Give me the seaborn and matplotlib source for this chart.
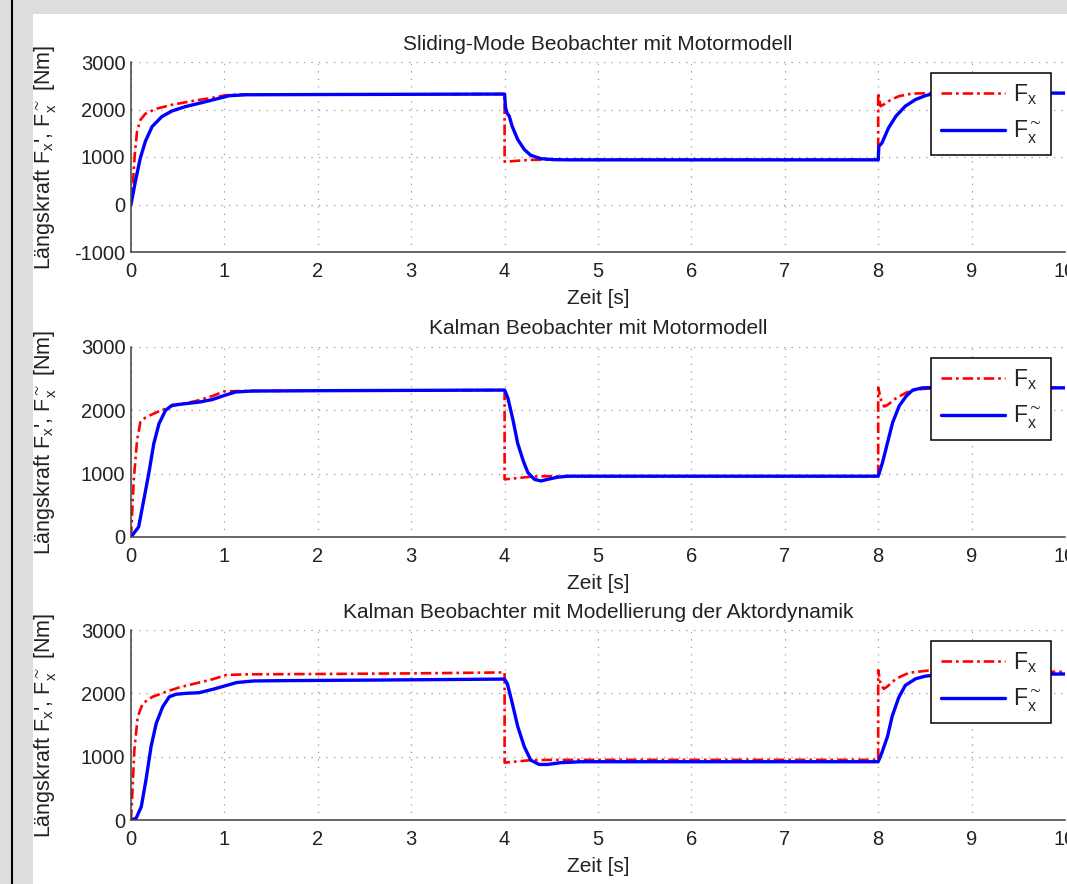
import matplotlib
matplotlib.use("Agg")
import matplotlib.pyplot as plt
from matplotlib.patches import Rectangle
from matplotlib.lines import Line2D
import seaborn as sns

# ---- data (time in s, force in Nm) ----
# Sliding-Mode observer
t_sm_fx = [0, 0.018, 0.04, 0.065, 0.1, 0.154, 0.26, 0.44, 0.69, 0.87, 1.01, 1.16, 2.0, 3.0, 4.0,
           4.0, 4.1, 4.2, 4.3, 4.45, 5.0, 6.0, 7.0, 8.0,
           8.0, 8.025, 8.06, 8.11, 8.22, 8.36, 8.6, 9.0, 10.0]
fx_sm = [0, 350, 1050, 1540, 1780, 1910, 2010, 2100, 2190, 2245, 2300, 2315, 2315, 2320, 2325,
         900, 915, 930, 940, 945, 945, 945, 945, 945,
         2350, 2070, 2105, 2175, 2280, 2335, 2345, 2345, 2345]
t_sm_est = [0, 0.047, 0.1, 0.154, 0.226, 0.33, 0.44, 0.58, 0.76, 0.94, 1.05, 1.23, 2.0, 3.0, 4.0,
            4.01, 4.03, 4.05, 4.08, 4.14, 4.21, 4.28, 4.39, 4.53, 4.7, 5.0, 6.0, 7.0, 8.0,
            8.007, 8.04, 8.11, 8.19, 8.29, 8.4, 8.51, 8.6, 9.0, 10.0]
est_sm = [0, 490, 980, 1330, 1640, 1850, 1970, 2060, 2145, 2235, 2290, 2310, 2315, 2320, 2325,
          2035, 1910, 1860, 1650, 1370, 1160, 1035, 965, 944, 940, 940, 940, 940, 940,
          1225, 1295, 1610, 1860, 2070, 2210, 2295, 2335, 2345, 2345]

# Kalman observer with motor model
t_km_fx = [0, 0.029, 0.065, 0.1, 0.154, 0.26, 0.44, 0.69, 0.87, 1.0, 1.2, 2.0, 3.0, 4.0,
           4.0, 4.1, 4.2, 4.3, 4.45, 5.0, 6.0, 7.0, 8.0,
           8.0, 8.03, 8.064, 8.1, 8.19, 8.3, 8.41, 8.6, 9.0, 10.0]
fx_km = [0, 895, 1525, 1815, 1885, 1960, 2070, 2145, 2225, 2300, 2305, 2310, 2315, 2320,
         910, 925, 940, 955, 960, 960, 960, 960, 960,
         2360, 2165, 2060, 2085, 2190, 2280, 2330, 2350, 2355, 2355]
t_km_est = [0, 0.082, 0.136, 0.19, 0.244, 0.30, 0.37, 0.44, 0.58, 0.73, 0.87, 1.0, 1.12, 1.3, 2.0, 3.0,
            4.0, 4.036, 4.09, 4.14, 4.2, 4.25, 4.32, 4.39, 4.46, 4.57, 4.68, 5.0, 6.0, 7.0, 8.0,
            8.046, 8.1, 8.154, 8.225, 8.3, 8.37, 8.475, 8.6, 9.0, 10.0]
est_km = [0, 160, 580, 1000, 1475, 1790, 2000, 2080, 2105, 2130, 2170, 2235, 2290, 2305, 2310, 2315,
          2320, 2190, 1845, 1480, 1200, 1015, 910, 885, 910, 945, 960, 960, 960, 960, 960,
          1175, 1490, 1805, 2070, 2225, 2320, 2355, 2360, 2358, 2355]

# Kalman observer with actuator dynamics
t_ad_fx = [0, 0.018, 0.036, 0.072, 0.125, 0.23, 0.376, 0.52, 0.7, 0.88, 1.02, 1.24, 2.0, 3.0, 4.0,
           4.0, 4.1, 4.28, 4.5, 5.0, 6.0, 7.0, 8.0,
           8.0, 8.025, 8.06, 8.1, 8.19, 8.33, 8.54, 9.0, 10.0]
fx_ad = [0, 525, 1105, 1630, 1840, 1945, 2025, 2095, 2160, 2225, 2290, 2300, 2305, 2315, 2330,
         905, 920, 945, 950, 950, 950, 950, 950,
         2365, 2150, 2070, 2110, 2230, 2325, 2360, 2345, 2340]
t_ad_est = [0, 0.054, 0.11, 0.16, 0.215, 0.27, 0.34, 0.41, 0.48, 0.59, 0.73, 0.88, 1.0, 1.13, 1.31, 1.6,
            2.67, 4.0, 4.03, 4.08, 4.14, 4.21, 4.28, 4.37, 4.46, 4.6, 4.82, 5.0, 6.0, 7.0, 8.0,
            8.04, 8.1, 8.15, 8.22, 8.29, 8.4, 8.5, 8.58, 9.0, 10.0]
est_ad = [0, 25, 210, 630, 1160, 1525, 1790, 1945, 1985, 2000, 2010, 2065, 2115, 2170, 2195, 2200,
          2210, 2225, 2150, 1855, 1480, 1160, 945, 877, 877, 905, 920, 920, 920, 920, 920,
          1065, 1320, 1640, 1935, 2125, 2230, 2270, 2285, 2300, 2305]

titles = ["Sliding-Mode Beobachter mit Motormodell",
          "Kalman Beobachter mit Motormodell",
          "Kalman Beobachter mit Modellierung der Aktordynamik"]
y_ticks = [[-1000, 0, 1000, 2000, 3000], [0, 1000, 2000, 3000], [0, 1000, 2000, 3000]]
x_ticks = list(range(0, 11))
legend_labels = ["$F_x$", "$F_x^{\\sim}$"]

sns.set_style("white")
plt.rcParams["font.family"] = ["Liberation Sans", "DejaVu Sans"]
plt.rcParams["mathtext.fontset"] = "custom"
plt.rcParams["mathtext.rm"] = "Liberation Sans"
plt.rcParams["mathtext.it"] = "Liberation Sans:italic"
plt.rcParams["mathtext.default"] = "regular"
plt.rcParams["axes.unicode_minus"] = False

W, H = 1067, 884
fig = plt.figure(figsize=(W / 100, H / 100), dpi=100)
fig.patch.set_facecolor("#dddddd")
fig.patches.append(Rectangle((33 / W, 0), 1 - 33 / W, 1 - 14 / H, transform=fig.transFigure,
                             facecolor="white", edgecolor="none", zorder=-10))
fig.add_artist(Line2D([11.5 / W, 11.5 / W], [0, 1], color="black", lw=1.5))

series = [(t_sm_fx, fx_sm, t_sm_est, est_sm),
          (t_km_fx, fx_km, t_km_est, est_km),
          (t_ad_fx, fx_ad, t_ad_est, est_ad)]
tops = [62, 347, 630]
ax_h = 190
left, right = 131, 1065

for i, (tf, vf, te, ve) in enumerate(series):
    ax = fig.add_axes([left / W, 1 - (tops[i] + ax_h) / H, (right - left) / W, ax_h / H])
    sns.lineplot(x=tf, y=vf, ax=ax, color="#ff0000", lw=1.9, linestyle=(0, (4, 1.5, 1, 1.5)),
                 estimator=None, sort=False)
    sns.lineplot(x=te, y=ve, ax=ax, color="#0000ff", lw=2.4, estimator=None, sort=False)

    ax.set_xlim(0, 10)
    ax.set_ylim(y_ticks[i][0], y_ticks[i][-1])
    ax.set_xticks(x_ticks)
    ax.set_yticks(y_ticks[i])
    ax.grid(True, color="#9a9a9a", linestyle=(0, (1, 5)), lw=0.9)
    ax.set_axisbelow(True)
    for s in ["top", "right"]:
        ax.spines[s].set_visible(False)
    for s in ["left", "bottom"]:
        ax.spines[s].set_color("#404040")
        ax.spines[s].set_linewidth(1.1)
    ax.tick_params(axis="both", direction="in", length=6, width=1.1, color="#404040",
                   labelsize=14.5, labelcolor="#222222")
    ax.tick_params(axis="x", pad=7)
    ax.tick_params(axis="y", pad=4)

    ax.set_title(titles[i], fontsize=15, pad=9, color="#222222")
    ax.set_xlabel("Zeit [s]", fontsize=15, color="#222222")
    ax.xaxis.set_label_coords(0.5, -0.195)
    ax.set_ylabel("Längskraft $F_x$', $F_x^{\\sim}$ [Nm]", fontsize=15.5, color="#222222")
    ax.yaxis.set_label_coords(-0.078, 0.5)

    leg = ax.legend(handles=ax.lines[:2], labels=legend_labels, loc="upper right",
                    bbox_to_anchor=(0.985, 0.942), borderaxespad=0, fontsize=16.5,
                    handlelength=2.8, handletextpad=0.35, labelspacing=0.5,
                    borderpad=0.4, fancybox=False, framealpha=1)
    leg.get_frame().set_edgecolor("black")
    leg.get_frame().set_linewidth(1.1)

fig.savefig("out.png", dpi=100, facecolor=fig.get_facecolor())
